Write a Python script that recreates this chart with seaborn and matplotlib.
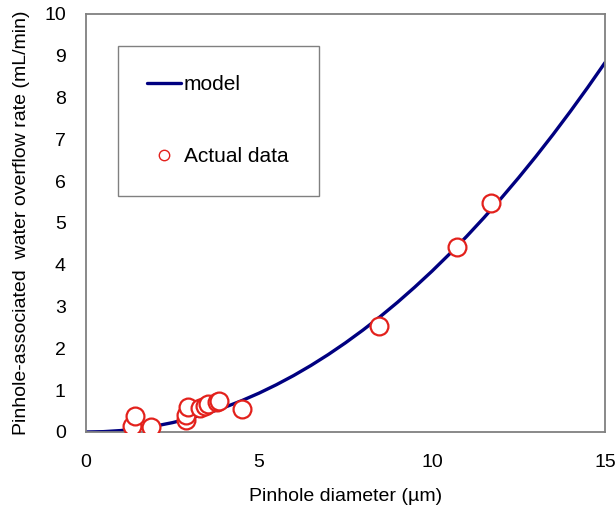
import matplotlib
matplotlib.use("Agg")
import matplotlib.pyplot as plt
import seaborn as sns
import pandas as pd
from matplotlib.lines import Line2D

# model curve
model_x = [0, 0.5, 1, 1.5, 2, 2.5, 3, 3.5, 4, 4.5, 5, 5.5, 6, 6.5, 7, 7.5, 8,
           8.5, 9, 9.5, 10, 10.5, 11, 11.5, 12, 12.5, 13, 13.5, 14, 14.5, 15]
model_y = [0.0, 0.008, 0.034, 0.079, 0.142, 0.224, 0.326, 0.447, 0.588, 0.749,
           0.929, 1.130, 1.350, 1.591, 1.852, 2.134, 2.436, 2.758, 3.101, 3.465,
           3.848, 4.254, 4.679, 5.126, 5.593, 6.081, 6.590, 7.120, 7.672, 8.244, 8.837]

# actual data
data_x = [1.32, 1.42, 1.88, 2.88, 2.90, 2.95, 3.30, 3.45, 3.52, 3.80, 3.84, 4.51, 8.46, 10.72, 11.70]
data_y = [0.14, 0.38, 0.12, 0.28, 0.40, 0.60, 0.57, 0.63, 0.66, 0.72, 0.75, 0.55, 2.54, 4.43, 5.48]

x_ticks = [0, 5, 10, 15]
x_minor = [2.5, 7.5, 12.5]
y_ticks = [0, 1, 2, 3, 4, 5, 6, 7, 8, 9, 10]

sns.set_style("white")
plt.rcParams['font.family'] = ['Liberation Sans', 'DejaVu Sans']
plt.rcParams['text.color'] = 'black'
plt.rcParams['axes.labelcolor'] = 'black'

fig = plt.figure(figsize=(6.16, 5.09), dpi=100)
ax = fig.add_axes([0.1396, 0.1513, 0.8426, 0.8212])

navy = "#000080"
red = "#e3211c"

df_model = pd.DataFrame({"x": model_x, "y": model_y})
df_data = pd.DataFrame({"x": data_x, "y": data_y})

sns.lineplot(data=df_model, x="x", y="y", ax=ax, color=navy, linewidth=2.4, legend=False)
sns.scatterplot(data=df_data, x="x", y="y", ax=ax, s=165, facecolor="white",
                edgecolor=red, linewidth=1.6, legend=False, zorder=3)

ax.set_xlim(0, 15)
ax.set_ylim(0, 10)
ax.set_xticks(x_ticks)
ax.set_xticks(x_minor, minor=True)
ax.set_yticks(y_ticks)
ax.tick_params(axis="both", which="both", direction="in", length=5, width=1,
               color="#7f7f7f", labelsize=14, labelcolor="black")
ax.tick_params(axis="y", pad=14.5)
ax.tick_params(axis="x", pad=16)
for s in ax.spines.values():
    s.set_visible(True)
    s.set_color("#808080")
    s.set_linewidth(1.3)

ax.set_xlabel("Pinhole diameter (µm)", fontsize=14, labelpad=12, color="black")
ax.set_ylabel("Pinhole-associated  water overflow rate (mL/min)", fontsize=14,
              labelpad=10, color="black")

handles = [Line2D([0], [0], color=navy, lw=2.4),
           Line2D([0], [0], marker="o", color="none", markerfacecolor="white",
                  markeredgecolor=red, markersize=7.5, markeredgewidth=1)]
leg = ax.legend(handles, ["model", "Actual data"], loc="upper left",
                bbox_to_anchor=(0.0617, 0.569, 0.387, 0.354), mode="expand",
                fontsize=15, frameon=True, fancybox=False, borderpad=1.4,
                labelspacing=2.55, handlelength=1.6, handletextpad=0.15,
                borderaxespad=0)
leg.get_frame().set_edgecolor("#606060")
leg.get_frame().set_linewidth(1.0)
for t in leg.get_texts():
    t.set_color("black")

fig.savefig("out.png", dpi=100)
